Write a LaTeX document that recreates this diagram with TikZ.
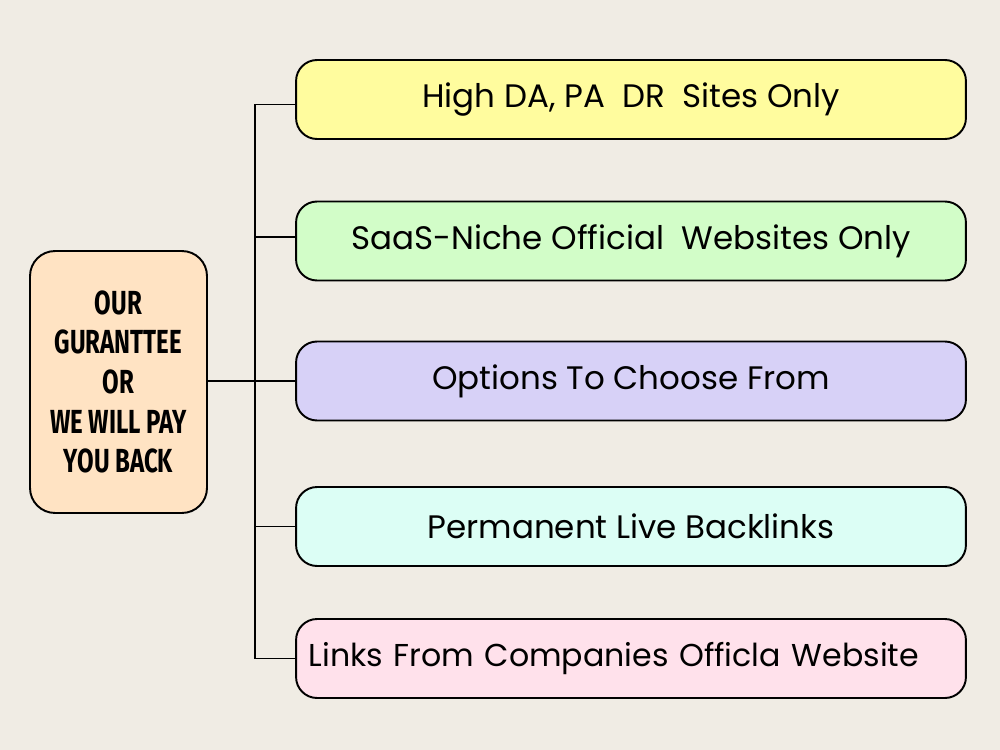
\documentclass[tikz,border=0pt]{standalone}
\usepackage{fontspec}
\setmainfont{Poppins}
\newfontfamily\headfont{Fira Sans}[FakeStretch=0.72]
\usetikzlibrary{positioning}
\definecolor{paper}{HTML}{F0ECE4}
\definecolor{peach}{HTML}{FFE3C3}
\definecolor{lemon}{HTML}{FFFC9E}
\definecolor{mint}{HTML}{D2FDC8}
\definecolor{lilac}{HTML}{D7D1F7}
\definecolor{aqua}{HTML}{DCFEF5}
\definecolor{blush}{HTML}{FFE1EB}

\begin{document}
\begin{tikzpicture}[x=0.02cm, y=-0.02cm, line width=1.1pt,
    item/.style={draw, rounded corners=0.42cm, minimum width=13.4cm, minimum height=1.58cm, font=\fontsize{18.5}{20}\selectfont},
    guarbox/.style={draw, fill=peach, rounded corners=0.5cm, minimum width=3.54cm, minimum height=5.24cm, align=center,
      font=\headfont\bfseries\fontsize{19}{22.6}\selectfont}]
  % background sheet
  \fill[paper] (0,0) rectangle (1000,750);
  \useasboundingbox (0,0) rectangle (1000,750);
  % the promise on the left
  \node[guarbox] (guar) at (118.5,382) {OUR\\GURANTTEE\\OR\\WE WILL PAY\\YOU BACK};
  % the five points
  \node[item, fill=lemon] (high) at (631,99.5) {High DA, PA\ \ DR\ \ Sites Only};
  \node[item, fill=mint] (saas) at (631,241) {SaaS-Niche Official\ \ Websites Only};
  \node[item, fill=lilac] (opts) at (631,381) {Options To Choose From};
  \node[item, fill=aqua] (perm) at (631,526.5) {Permanent Live Backlinks};
  \node[item, fill=blush, text width=12.9cm, font=\fontsize{18}{20}\selectfont] (links) at (631,658.5) {Links From Companies Officla Website};
  % bracket joining them
  \coordinate (bus) at (255,0);
  \draw (guar.east |- opts.west) -- (opts.west);
  \draw ([yshift=-0.1cm]high.west) -- ([yshift=-0.1cm]high.west -| bus) -- (links.west -| bus) -- (links.west);
  \draw ([yshift=0.08cm]saas.west -| bus) -- ([yshift=0.08cm]saas.west);
  \draw (perm.west -| bus) -- (perm.west);
\end{tikzpicture}
\end{document}
